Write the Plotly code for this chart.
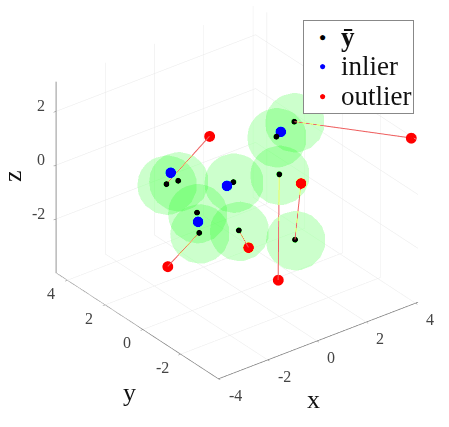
import plotly.graph_objects as go

# centres (ybar), x/y/z
ybar_x = [2.74, 2.22, 1.35, 1.30, 0.40, -1.39, -0.96, -0.67, -0.88, 0.23]
ybar_y = [0.78, 1.05, -0.24, -1.14, 0.95, 2.16, 2.10, 1.48, 1.09, 0.44]
ybar_z = [1.0, 0.5, 0.0, -2.0, -0.5, -0.5, -0.5, -1.5, -2.0, -2.0]

inlier_x = [2.42, 0.09, -1.15, -0.79]
inlier_y = [1.08, 0.89, 2.25, 1.27]
inlier_z = [0.6, -0.5, -0.2, -1.7]

outlier_x = [4.03, 0.87, 1.55, 0.33, -1.95, 0.53]
outlier_y = [-3.73, -0.81, -1.13, 0.06, 1.36, 2.38]
outlier_z = [2.0, -3.5, 0.0, -2.5, -3.0, 0.5]
# which centre each outlier is tied to
outlier_from = [0, 2, 3, 9, 8, 5]

legend_names = ["<b>ȳ</b>", "inlier", "outlier"]
legend_colors = ["black", "#0000ff", "#ff0000"]

x_ticks = [-4, -2, 0, 2, 4]
y_ticks = [-2, 0, 2, 4]
z_ticks = [-2, 0, 2]

line_x, line_y, line_z = [], [], []
for i, k in enumerate(outlier_from):
    line_x += [ybar_x[k], outlier_x[i], None]
    line_y += [ybar_y[k], outlier_y[i], None]
    line_z += [ybar_z[k], outlier_z[i], None]

# green balls sit behind the dots along the view direction, otherwise webgl tints the dots
view = (0.527, 0.687, -0.5)
back = 2.4
ball_x = [v + back * view[0] for v in ybar_x]
ball_y = [v + back * view[1] for v in ybar_y]
ball_z = [v + back * view[2] for v in ybar_z]

fig = go.Figure()
fig.add_trace(go.Scatter3d(x=ball_x, y=ball_y, z=ball_z, mode="markers", showlegend=False, hoverinfo="skip",
                           marker=dict(size=34.5, color="rgba(0,255,0,0.2)", line=dict(width=0))))
fig.add_trace(go.Scatter3d(x=line_x, y=line_y, z=line_z, mode="lines", showlegend=False,
                           line=dict(color="#ee5f5f", width=2)))
fig.add_trace(go.Scatter3d(x=ybar_x, y=ybar_y, z=ybar_z, mode="markers", showlegend=False,
                           marker=dict(size=3.5, color="black", line=dict(width=0))))
fig.add_trace(go.Scatter3d(x=inlier_x, y=inlier_y, z=inlier_z, mode="markers", showlegend=False,
                           marker=dict(size=6.3, color="#0000ff", line=dict(width=0))))
fig.add_trace(go.Scatter3d(x=outlier_x, y=outlier_y, z=outlier_z, mode="markers", showlegend=False,
                           marker=dict(size=6.3, color="#ff0000", line=dict(width=0))))

axis_style = dict(showbackground=False, showspikes=False, zeroline=False, showline=True,
                  gridcolor="#e8e8e8", gridwidth=1, showticklabels=False,
                  ticks="outside", ticklen=3, tickcolor="#777777", title=dict(text=""))

W, H = 449, 427
annotations = [
    dict(x=303 / W, y=1 - 20 / H, xref="paper", yref="paper", xanchor="left", yanchor="top", text=" ",
         width=109, height=92, bgcolor="white", bordercolor="#888888", borderwidth=1, borderpad=0, showarrow=False),
]
for name, color, row in zip(legend_names, legend_colors, [37, 66, 96]):
    annotations.append(dict(x=322 / W, y=1 - row / H, xref="paper", yref="paper", xanchor="center", yanchor="middle",
                            text="●", showarrow=False, font=dict(size=12, color=color)))
    annotations.append(dict(x=339 / W, y=1 - row / H, xref="paper", yref="paper", xanchor="left", yanchor="middle",
                            text=name, showarrow=False, font=dict(size=27, color="#111111")))
title_style = dict(xref="paper", yref="paper", xanchor="center", yanchor="middle", showarrow=False,
                   font=dict(size=26, color="#111111"))
annotations += [
    dict(x=313 / W, y=1 - 399 / H, text="x", **title_style),
    dict(x=129 / W, y=1 - 392 / H, text="y", **title_style),
    dict(x=12 / W, y=1 - 176 / H, text="z", textangle=-90, **title_style),
]

# tick labels hang off the axis edges at the offsets they have in the picture
tick_font = dict(family="Liberation Serif", size=16, color="#444444")
tick_labels = []
for v in x_ticks:
    tick_labels.append(dict(x=v, y=-4, z=-4, text=str(v), showarrow=False, font=tick_font,
                            xanchor="left", yanchor="middle", xshift=8, yshift=-16))
for v in y_ticks:
    tick_labels.append(dict(x=-4, y=v, z=-4, text=str(v), showarrow=False, font=tick_font,
                            xanchor="right", yanchor="middle", xshift=-10, yshift=-13))
for v in z_ticks:
    tick_labels.append(dict(x=-4, y=4.6, z=v, text=str(v), showarrow=False, font=tick_font,
                            xanchor="right", yanchor="middle", xshift=-9, yshift=5.5))

fig.update_layout(
    width=W, height=H,
    margin=dict(l=0, r=0, t=0, b=0),
    paper_bgcolor="white",
    font=dict(family="Liberation Serif", color="#111111"),
    showlegend=False,
    annotations=annotations,
    scene=dict(
        xaxis=dict(range=[-4, 4.1], tickvals=x_ticks, linecolor="#777777", linewidth=1.5, **axis_style),
        yaxis=dict(range=[-4, 4.6], tickvals=y_ticks, linecolor="#777777", linewidth=1.5, **axis_style),
        zaxis=dict(range=[-4, 3.1], tickvals=z_ticks, linecolor="#999999", linewidth=2.5, **axis_style),
        annotations=tick_labels,
        aspectmode="manual",
        aspectratio=dict(x=1.31, y=1.39, z=1.15),
        camera=dict(projection=dict(type="orthographic"),
                    eye=dict(x=-0.89, y=-1.16, z=0.845),
                    center=dict(x=0, y=0, z=0)),
        domain=dict(x=[0.056, 1], y=[0.1, 1]),
    ),
)

fig.write_html("out.html", config={"displayModeBar": False}, post_script="document.body.style.margin='0';")
